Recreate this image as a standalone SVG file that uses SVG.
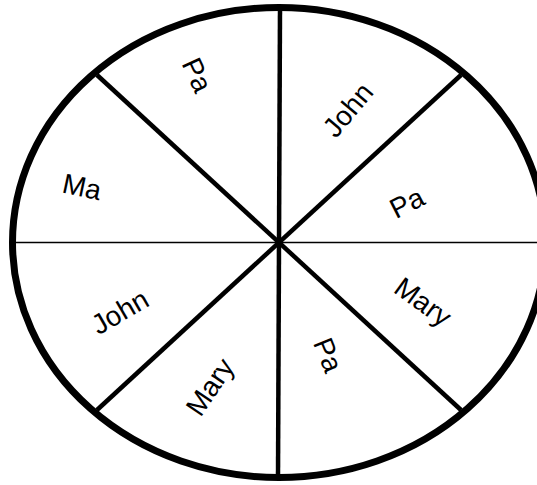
<svg xmlns="http://www.w3.org/2000/svg" width="537" height="485" viewBox="0 0 537 485">
<style>
.lbl{font-family:"Liberation Sans",Arial,sans-serif;font-size:28px;fill:#000;text-anchor:middle;dominant-baseline:central}
.spoke{stroke:#000;stroke-width:4.5;fill:none}
</style>
<rect width="537" height="485" fill="#fff"/>
<g id="connectors">
<line class="spoke" x1="280" y1="8" x2="278" y2="478"/>
<line x1="12" y1="242.5" x2="537" y2="242.5" stroke="#000" stroke-width="1.6"/>
<line class="spoke" x1="97" y1="75" x2="461" y2="410"/>
<line class="spoke" x1="461" y1="75" x2="97" y2="410"/>
</g>
<g id="wheel">
<ellipse cx="279" cy="242.5" rx="266.5" ry="235" fill="none" stroke="#000" stroke-width="7"/>
</g>
<g id="n1"><text class="lbl" transform="translate(197,75) rotate(65)">Pa</text></g>
<g id="n2"><text class="lbl" transform="translate(348,110) rotate(-50)">John</text></g>
<g id="n3"><text class="lbl" transform="translate(407,203) rotate(-27)">Pa</text></g>
<g id="n4"><text class="lbl" transform="translate(423,302) rotate(36)">Mary</text></g>
<g id="n5"><text class="lbl" transform="translate(328,355) rotate(68)">Pa</text></g>
<g id="n6"><text class="lbl" transform="translate(210,387) rotate(-56)">Mary</text></g>
<g id="n7"><text class="lbl" transform="translate(120,312) rotate(-30)">John</text></g>
<g id="n8"><text class="lbl" transform="translate(82,187) rotate(12)">Ma</text></g>
</svg>
